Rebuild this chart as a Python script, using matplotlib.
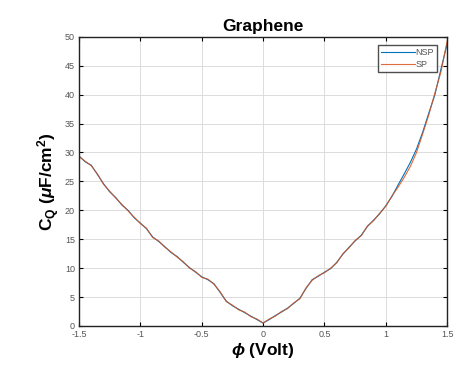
import matplotlib
matplotlib.use("Agg")
import matplotlib.pyplot as plt

plt.rcParams['font.family'] = ['Liberation Sans', 'DejaVu Sans']
plt.rcParams['mathtext.fontset'] = 'custom'
plt.rcParams['mathtext.rm'] = 'Liberation Sans:bold'
plt.rcParams['mathtext.it'] = 'Liberation Sans:italic:bold'
plt.rcParams['mathtext.bf'] = 'Liberation Sans:bold'

phi = [-1.50, -1.45, -1.40, -1.35, -1.30, -1.25, -1.20, -1.15, -1.10, -1.05,
       -1.00, -0.95, -0.90, -0.85, -0.80, -0.75, -0.70, -0.65, -0.60, -0.55,
       -0.50, -0.45, -0.40, -0.35, -0.30, -0.25, -0.20, -0.15, -0.10, -0.05,
       0.00, 0.05, 0.10, 0.15, 0.20, 0.25, 0.30, 0.35, 0.40, 0.45,
       0.50, 0.55, 0.60, 0.65, 0.70, 0.75, 0.80, 0.85, 0.90, 0.95,
       1.00, 1.05, 1.10, 1.15, 1.20, 1.25, 1.30, 1.35, 1.40, 1.45, 1.50]

nsp = [29.4, 28.4, 27.8, 26.2, 24.6, 23.2, 22.2, 20.9, 20.0, 18.7,
       17.8, 16.8, 15.4, 14.6, 13.7, 12.7, 12.0, 11.0, 10.1, 9.3,
       8.5, 8.0, 7.3, 5.8, 4.3, 3.5, 2.9, 2.3, 1.7, 1.1,
       0.5, 1.1, 1.8, 2.4, 3.1, 3.9, 4.8, 6.5, 8.0, 8.6,
       9.3, 9.9, 11.0, 12.4, 13.6, 14.7, 15.7, 17.2, 18.3, 19.4,
       20.8, 22.4, 24.4, 26.3, 28.3, 30.6, 33.5, 36.8, 40.0, 44.5, 48.8]

sp = [29.3, 28.5, 27.7, 26.3, 24.5, 23.3, 22.1, 21.0, 19.9, 18.8,
      17.7, 16.9, 15.3, 14.7, 13.6, 12.8, 11.9, 11.1, 10.0, 9.4,
      8.4, 8.1, 7.2, 5.9, 4.2, 3.6, 2.8, 2.4, 1.6, 1.2,
      0.5, 1.2, 1.7, 2.5, 3.0, 4.0, 4.7, 6.6, 7.9, 8.7,
      9.2, 10.0, 10.9, 12.5, 13.5, 14.8, 15.6, 17.3, 18.2, 19.5,
      20.7, 22.5, 24.0, 25.7, 27.6, 30.0, 33.2, 36.5, 40.3, 44.0, 49.3]

xticks = [-1.5, -1, -0.5, 0, 0.5, 1, 1.5]
xticklabels = ['-1.5', '-1', '-0.5', '0', '0.5', '1', '1.5']
yticks = list(range(0, 51, 5))

fig = plt.figure(figsize=(4.54, 3.65), dpi=100)
ax = fig.add_axes([0.174, 0.107, 0.811, 0.792])

ax.plot(phi, nsp, color='#0072BD', lw=0.8, label='NSP')
ax.plot(phi, sp, color='#D95319', lw=0.8, label='SP', alpha=0.85)

ax.set_xlim(-1.5, 1.5)
ax.set_ylim(0, 50)
ax.set_xticks(xticks)
ax.set_xticklabels(xticklabels)
ax.set_yticks(yticks)
ax.grid(True, color='#dcdcdc', lw=0.7)
ax.set_axisbelow(True)
ax.tick_params(direction='in', length=3, width=0.8, labelsize=6.5,
               labelcolor='#555555', top=True, right=True, pad=3)
for s in ax.spines.values():
    s.set_linewidth(1.0)
    s.set_color('#222222')

ax.set_title('Graphene', fontsize=12.5, fontweight='bold', pad=4)
ax.set_xlabel(r'$\phi$ (Volt)', fontsize=12.5, fontweight='bold', labelpad=1)
ax.set_ylabel(r'C$_\mathrm{Q}$ ($\mu$F/cm$^\mathrm{2}$)', fontsize=12.5,
              fontweight='bold', labelpad=2)

leg = ax.legend(loc='upper right', bbox_to_anchor=(0.973, 0.972), fontsize=6.5,
                frameon=True, fancybox=False, edgecolor='#222222',
                handlelength=3.7, borderpad=0.35, labelspacing=0.3,
                handletextpad=0.1, borderaxespad=0)
leg.get_frame().set_linewidth(1.0)
for t in leg.get_texts():
    t.set_color('#555555')

fig.savefig('out.png', dpi=100)
